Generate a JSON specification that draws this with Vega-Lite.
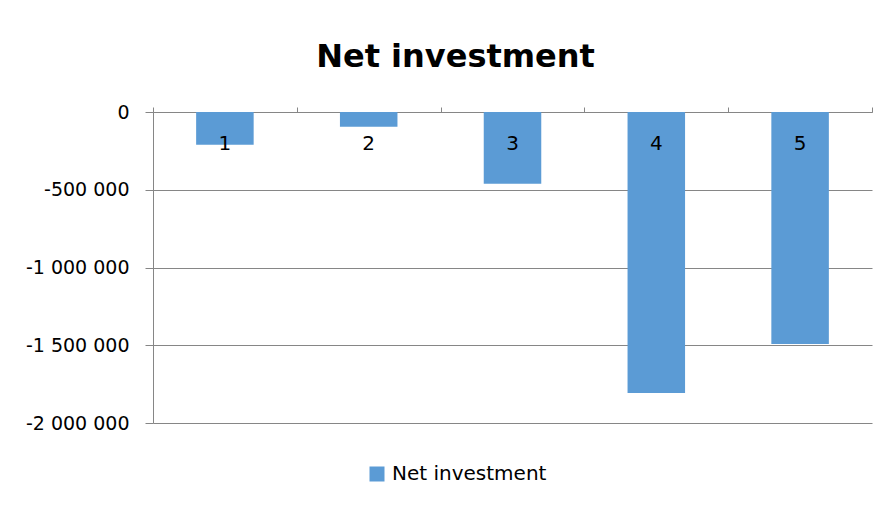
{
  "$schema": "https://vega.github.io/schema/vega-lite/v6.json",
  "width": 719,
  "height": 311,
  "autosize": {"type": "none"},
  "padding": {"left": 153, "top": 112, "right": 17, "bottom": 83},
  "background": "white",
  "config": {
    "locale": {"number": {"decimal": ",", "thousands": " ", "grouping": [3], "currency": ["", ""], "minus": "-"}},
    "view": {"stroke": null},
    "font": "DejaVu Sans"
  },
  "title": {
    "text": "Net investment",
    "font": "DejaVu Sans",
    "fontSize": 32,
    "fontWeight": "bold",
    "color": "#000000",
    "anchor": "middle",
    "dx": -57,
    "offset": 29
  },
  "data": {
    "values": [
      {"year": "1", "value": -210000, "series": "Net investment"},
      {"year": "2", "value": -95000, "series": "Net investment"},
      {"year": "3", "value": -461000, "series": "Net investment"},
      {"year": "4", "value": -1807000, "series": "Net investment"},
      {"year": "5", "value": -1492000, "series": "Net investment"}
    ]
  },
  "layer": [
    {
      "mark": {"type": "bar", "width": {"band": 0.4}},
      "encoding": {
        "x": {
          "field": "year",
          "type": "ordinal",
          "scale": {"paddingInner": 0, "paddingOuter": 0},
          "axis": {"orient": "top", "labels": false, "title": null, "tickBand": "extent", "domainColor": "#868686", "tickColor": "#868686", "tickSize": 5}
        },
        "y": {
          "field": "value",
          "type": "quantitative",
          "scale": {"domain": [-2000000, 0], "nice": false},
          "axis": {
            "values": [0, -500000, -1000000, -1500000, -2000000],
            "format": ",.0f",
            "title": null,
            "labelFontSize": 19,
            "labelColor": "#000000",
            "labelPadding": 16,
            "tickSize": 8,
            "tickColor": "#868686",
            "domainColor": "#868686",
            "gridColor": "#868686",
            "gridOpacity": 1
          }
        },
        "color": {
          "field": "series",
          "type": "nominal",
          "scale": {"range": ["#5B9BD5"]},
          "legend": {
            "title": null,
            "orient": "none",
            "legendX": 214,
            "legendY": 352,
            "symbolType": "square",
            "symbolSize": 225,
            "symbolStrokeWidth": 0,
            "symbolOpacity": 1,
            "labelFontSize": 20,
            "labelColor": "#000000",
            "labelOffset": 5
          }
        }
      }
    },
    {
      "mark": {"type": "text", "dy": 32, "fontSize": 20, "baseline": "middle", "color": "#000000"},
      "encoding": {
        "x": {"field": "year", "type": "ordinal"},
        "y": {"datum": 0},
        "text": {"field": "year"}
      }
    }
  ]
}
